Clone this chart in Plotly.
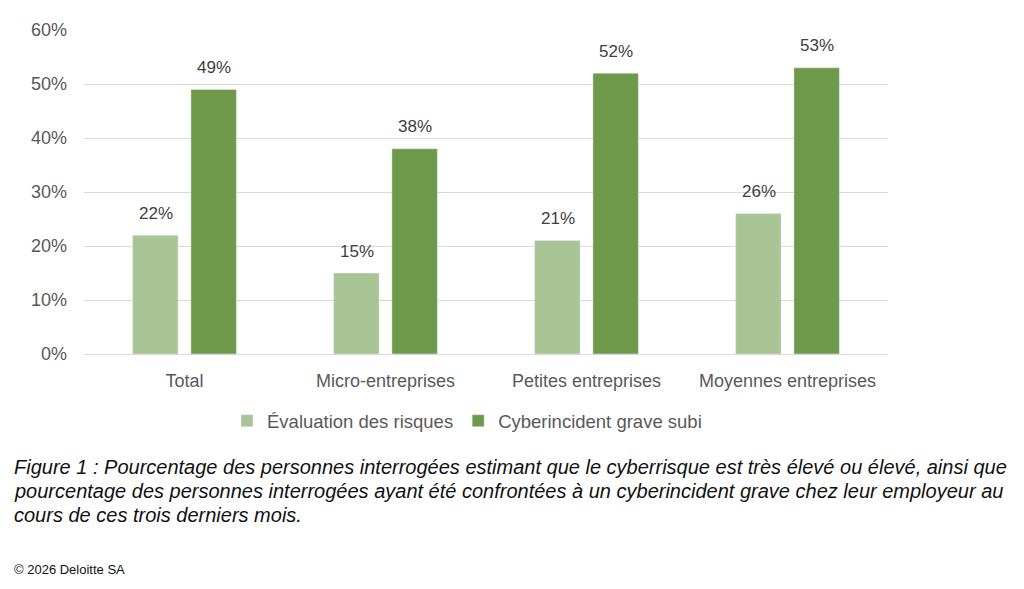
import plotly.graph_objects as go

# données
categories = ["Total", "Micro-entreprises", "Petites entreprises", "Moyennes entreprises"]
evaluation_risques = [0.22, 0.15, 0.21, 0.26]
cyberincident = [0.49, 0.38, 0.52, 0.53]
series_names = ["Évaluation des risques", "Cyberincident grave subi"]

OFF = 8  # marge de la page dans le navigateur
W, H = 1024 - OFF, 589 - OFF
# zone de tracé en pixels de l'image de référence
X0, X1, Y0, Y1 = 84, 888, 26, 354
L, R, T, B = X0 - OFF, W - (X1 - OFF), Y0 - OFF, H - (Y1 - OFF)
plot_w, plot_h = X1 - X0, Y1 - Y0


def py(ypix):
    return (Y1 - ypix) / plot_h


def px(xpix):
    return (xpix - X0) / plot_w


fig = go.Figure()
fig.add_trace(go.Bar(x=categories, y=evaluation_risques, name=series_names[0],
                     marker=dict(color="#a9c595")))
fig.add_trace(go.Bar(x=categories, y=cyberincident, name=series_names[1],
                     marker=dict(color="#6e994a")))

annotations = []
for vals, shift in ((evaluation_risques, -29), (cyberincident, 29)):
    for cat, v in zip(categories, vals):
        annotations.append(dict(
            x=cat, y=v, xref="x", yref="y", text=f"{v:.0%}", showarrow=False,
            xshift=shift, yshift=22, yanchor="middle",
            font=dict(size=17, color="#404040"),
        ))

caption = [
    "Figure 1 : Pourcentage des personnes interrogées estimant que le cyberrisque est très élevé ou élevé, ainsi que",
    "pourcentage des personnes interrogées ayant été confrontées à un cyberincident grave chez leur employeur au",
    "cours de ces trois derniers mois.",
]
for i, line in enumerate(caption):
    annotations.append(dict(
        text=line, xref="paper", yref="paper", x=px(12), y=py(468 + i * 24.5),
        xanchor="left", yanchor="middle", showarrow=False,
        font=dict(family="Liberation Sans", size=20, color="#111111", style="italic"),
    ))
annotations.append(dict(
    text="© 2026 Deloitte SA", xref="paper", yref="paper", x=px(12), y=py(572),
    xanchor="left", yanchor="middle", showarrow=False,
    font=dict(family="Liberation Sans", size=13, color="#111111"),
))

fig.update_layout(
    width=W, height=H,
    margin=dict(l=L, r=R, t=T, b=B),
    paper_bgcolor="white", plot_bgcolor="white",
    font=dict(family="Liberation Sans", color="#595959"),
    barmode="group", bargap=0.42, bargroupgap=0.22,
    showlegend=True,
    legend=dict(
        orientation="h", x=px(467), y=py(422), xanchor="center", yanchor="middle",
        font=dict(size=18.5, color="#595959"), itemwidth=30,
        traceorder="normal",
    ),
    annotations=annotations,
)
fig.update_xaxes(
    tickfont=dict(size=18, color="#595959"), showline=True, linecolor="#d9d9d9",
    ticks="", showgrid=False, ticklabelstandoff=10,
)
fig.update_yaxes(
    range=[0, 0.6], dtick=0.1, tickformat=".0%",
    tickfont=dict(size=18, color="#595959"),
    gridcolor="#d9d9d9", gridwidth=1, zeroline=False, showline=False,
    ticklabelstandoff=16,
)

fig.write_html("out.html")
